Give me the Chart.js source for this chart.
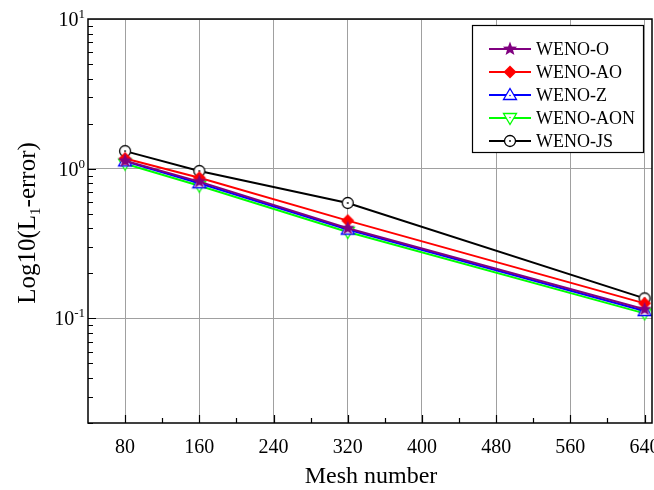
<!DOCTYPE html>
<html>
<head>
<meta charset="utf-8">
<script src="https://cdn.jsdelivr.net/npm/chart.js@4/dist/chart.umd.min.js"></script>
<style>
  html, body { margin: 0; padding: 0; background: #fff; }
  #wrap { width: 654px; height: 490px; }
</style>
</head>
<body>
<div id="wrap"><canvas id="convergence"></canvas></div>
<script>
// mesh sizes and L1 errors of each scheme
let meshSizes = [80, 160, 320, 640];
let errWenoO = [1.13, 0.82, 0.40, 0.115];
let errWenoAO = [1.17, 0.87, 0.45, 0.126];
let errWenoZ = [1.12, 0.80, 0.392, 0.112];
let errWenoAON = [1.08, 0.77, 0.378, 0.108];
let errWenoJS = [1.31, 0.965, 0.59, 0.136];

let xTicks = [80, 160, 240, 320, 400, 480, 560, 640];
let xMinorTicks = [120, 200, 280, 360, 440, 520, 600];
let yDecades = [0.1, 1, 10];
let yDecadeExp = ['-1', '0', '1'];

const serif = '"Liberation Serif", "Times New Roman", serif';

// marker images, drawn once and reused for points and legend
function makeMarker(kind, color) {
    let c = document.createElement('canvas');
    c.width = 16;
    c.height = 16;
    let g = c.getContext('2d');
    g.translate(8, 8);
    g.lineWidth = 1.3;
    g.strokeStyle = color;
    g.fillStyle = color;
    g.beginPath();
    if (kind === 'star') {
        for (let i = 0; i < 10; i++) {
            let r = i % 2 === 0 ? 7.5 : 3.2;
            let a = -Math.PI / 2 + i * Math.PI / 5;
            g.lineTo(r * Math.cos(a), r * Math.sin(a));
        }
        g.closePath();
        g.fill();
    } else if (kind === 'diamond') {
        g.moveTo(0, -6.5);
        g.lineTo(6.5, 0);
        g.lineTo(0, 6.5);
        g.lineTo(-6.5, 0);
        g.closePath();
        g.fill();
    } else if (kind === 'triangle' || kind === 'triangleDown') {
        let s = kind === 'triangle' ? 1 : -1;
        g.moveTo(0, -6.5 * s);
        g.lineTo(6.5, 4.5 * s);
        g.lineTo(-6.5, 4.5 * s);
        g.closePath();
        g.fillStyle = '#fff';
        g.fill();
        g.stroke();
        g.beginPath();
        g.fillStyle = color;
        g.arc(0, 0.5 * s, 0.8, 0, Math.PI * 2);
        g.fill();
    } else {
        g.arc(0, 0, 5.5, 0, Math.PI * 2);
        g.fillStyle = '#fff';
        g.fill();
        g.stroke();
        g.beginPath();
        g.fillStyle = color;
        g.arc(0, 0, 0.9, 0, Math.PI * 2);
        g.fill();
    }
    return c;
}

function series(label, values, color, kind) {
    let marker = makeMarker(kind, color);
    return {
        label: label,
        data: meshSizes.map(function (m, i) { return { x: m, y: values[i] }; }),
        borderColor: color,
        backgroundColor: color,
        borderWidth: 2,
        pointStyle: marker,
        pointRadius: 7,
        pointHoverRadius: 7,
        marker: marker,
        tension: 0
    };
}

let datasets = [
    series('WENO-O', errWenoO, '#800080', 'star'),
    series('WENO-AO', errWenoAO, '#ff0000', 'diamond'),
    series('WENO-Z', errWenoZ, '#0000ff', 'triangle'),
    series('WENO-AON', errWenoAON, '#00ff00', 'triangleDown'),
    series('WENO-JS', errWenoJS, '#000000', 'circle')
];

// frame, inward ticks, tick labels, axis titles and legend
let decorations = {
    id: 'decorations',
    afterDraw: function (chart) {
        let ctx = chart.ctx;
        let area = chart.chartArea;
        let xs = chart.scales.x;
        let ys = chart.scales.y;
        ctx.save();

        ctx.strokeStyle = '#000';
        ctx.lineWidth = 1.5;
        ctx.strokeRect(area.left, area.top, area.right - area.left, area.bottom - area.top);

        ctx.lineWidth = 1.2;
        ctx.beginPath();
        xTicks.forEach(function (v) {
            let px = Math.round(xs.getPixelForValue(v)) + 0.5;
            ctx.moveTo(px, area.bottom);
            ctx.lineTo(px, area.bottom - 8);
        });
        xMinorTicks.forEach(function (v) {
            let px = Math.round(xs.getPixelForValue(v)) + 0.5;
            ctx.moveTo(px, area.bottom);
            ctx.lineTo(px, area.bottom - 5);
        });
        for (let d = 0.01; d < 10; d *= 10) {
            for (let k = 1; k <= 9; k++) {
                let v = d * k;
                if (v < ys.min - 1e-9 || v > ys.max + 1e-9) continue;
                let py = Math.round(ys.getPixelForValue(v)) + 0.5;
                ctx.moveTo(area.left, py);
                ctx.lineTo(area.left + (k === 1 ? 8 : 5), py);
            }
        }
        ctx.stroke();

        ctx.fillStyle = '#000';
        ctx.font = '20px ' + serif;
        ctx.textAlign = 'center';
        ctx.textBaseline = 'alphabetic';
        xTicks.forEach(function (v) {
            ctx.fillText(String(v), xs.getPixelForValue(v), 453);
        });

        yDecades.forEach(function (v, i) {
            let py = ys.getPixelForValue(v);
            ctx.font = '13px ' + serif;
            let ew = ctx.measureText(yDecadeExp[i]).width;
            ctx.font = '20px ' + serif;
            let bw = ctx.measureText('10').width;
            let right = area.left - 3;
            ctx.textAlign = 'left';
            ctx.fillText('10', right - ew - bw, py + 7);
            ctx.font = '13px ' + serif;
            ctx.fillText(yDecadeExp[i], right - ew, py - 1);
        });

        ctx.font = '24px ' + serif;
        ctx.textAlign = 'center';
        ctx.fillText('Mesh number', (area.left + area.right) / 2 + 1, 483);

        // vertical title with subscript
        ctx.save();
        ctx.translate(35, 223);
        ctx.rotate(-Math.PI / 2);
        ctx.textAlign = 'left';
        let parts = [['Log10(L', 25, 0], ['1', 15, 5], ['-error)', 25, 0]];
        let total = 0;
        parts.forEach(function (p) {
            ctx.font = p[1] + 'px ' + serif;
            total += ctx.measureText(p[0]).width;
        });
        let cx = -total / 2;
        parts.forEach(function (p) {
            ctx.font = p[1] + 'px ' + serif;
            ctx.fillText(p[0], cx, p[2]);
            cx += ctx.measureText(p[0]).width;
        });
        ctx.restore();

        // legend box
        let lx = 472, ly = 25, lw = 171, lh = 127;
        ctx.fillStyle = '#fff';
        ctx.fillRect(lx, ly, lw, lh);
        ctx.strokeStyle = '#000';
        ctx.lineWidth = 1.2;
        ctx.strokeRect(lx + 0.5, ly + 0.5, lw, lh);
        ctx.font = '18px ' + serif;
        ctx.textAlign = 'left';
        ctx.textBaseline = 'middle';
        chart.data.datasets.forEach(function (ds, i) {
            let ry = 49 + i * 23;
            ctx.strokeStyle = ds.borderColor;
            ctx.lineWidth = 2;
            ctx.beginPath();
            ctx.moveTo(489, ry);
            ctx.lineTo(531, ry);
            ctx.stroke();
            ctx.drawImage(ds.marker, 510 - 8, ry - 8);
            ctx.fillStyle = '#000';
            ctx.fillText(ds.label, 536, ry + 1);
        });

        ctx.restore();
    }
};

var ctxConv = document.getElementById('convergence').getContext('2d');
var convChart = new Chart(ctxConv, {
    type: 'line',
    data: { datasets: datasets },
    plugins: [decorations],
    options: {
        responsive: true,
        maintainAspectRatio: false,
        animation: false,
        layout: { autoPadding: false, padding: { left: 0, right: 2, top: 19, bottom: 0 } },
        scales: {
            x: {
                type: 'linear',
                min: 40,
                max: 648,
                afterBuildTicks: function (scale) {
                    scale.ticks = xTicks.map(function (v) { return { value: v }; });
                },
                afterFit: function (scale) { scale.height = 67; },
                ticks: { display: false },
                border: { display: false },
                grid: { color: '#a0a0a0', lineWidth: 1, drawTicks: false }
            },
            y: {
                type: 'logarithmic',
                min: 0.02,
                max: 10,
                afterBuildTicks: function (scale) {
                    scale.ticks = yDecades.map(function (v) { return { value: v }; });
                },
                afterFit: function (scale) { scale.width = 88; },
                ticks: { display: false },
                border: { display: false },
                grid: { color: '#a0a0a0', lineWidth: 1, drawTicks: false }
            }
        },
        plugins: {
            legend: { display: false },
            tooltip: { enabled: false }
        }
    }
});
</script>
</body>
</html>
